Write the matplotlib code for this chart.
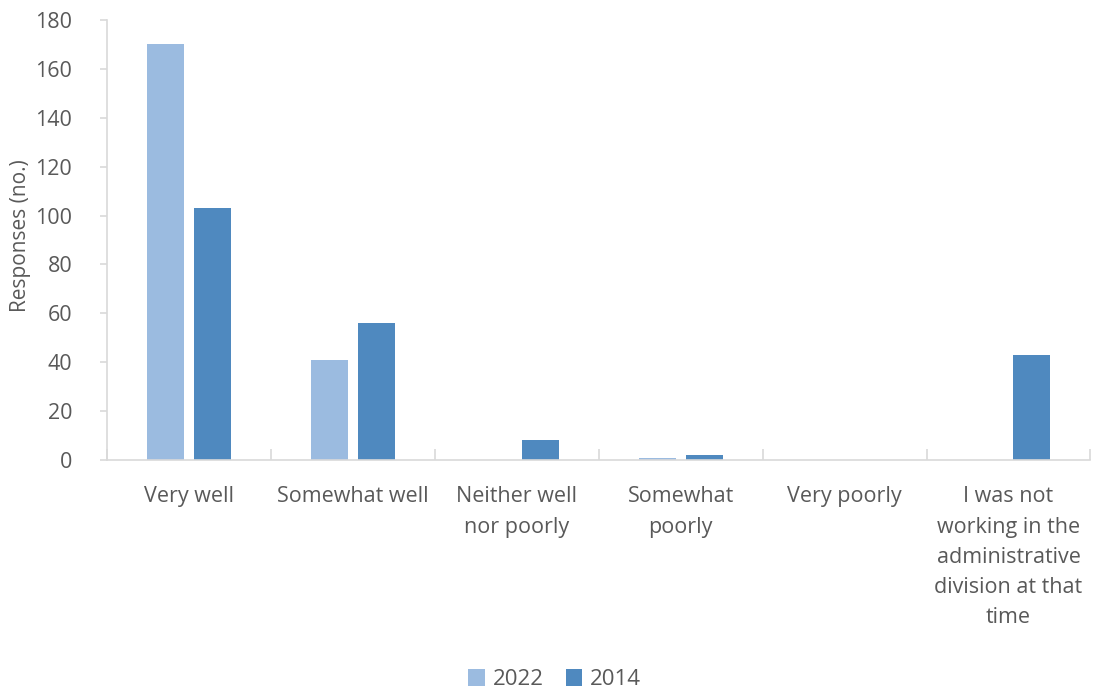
import numpy as np
import matplotlib.pyplot as plt

plt.rcParams['font.family'] = ['Open Sans', 'DejaVu Sans']

categories = ['Very well', 'Somewhat well', 'Neither well\nnor poorly', 'Somewhat\npoorly',
              'Very poorly', 'I was not\nworking in the\nadministrative\ndivision at that\ntime']
vals_2022 = [170, 41, 0, 1, 0, 0]
vals_2014 = [103, 56, 8, 2, 0, 43]

c2022 = '#9BBBE0'
c2014 = '#4F89BF'
txt = '#595959'
axcol = '#D9D9D9'

fig = plt.figure(figsize=(10.94, 6.89), dpi=100)
ax = fig.add_axes([0.0978, 0.3324, 0.899, 0.6386])

x = np.arange(len(categories))
w = 0.225
off = 0.1425
ax.bar(x - off, vals_2022, w, color=c2022, label='2022')
ax.bar(x + off, vals_2014, w, color=c2014, label='2014')

ax.set_xlim(-0.5, len(categories) - 0.5)
ax.set_ylim(0, 180)
ax.set_yticks(range(0, 181, 20))
ax.tick_params(axis='y', colors=axcol, labelcolor=txt, labelsize=15.5, length=5, width=1.2, pad=20)

# category labels, boundary ticks
ax.set_xticks(x)
ax.set_xticklabels(categories)
ax.tick_params(axis='x', which='major', length=0, labelcolor=txt, labelsize=15.5, pad=19)
for lbl in ax.get_xticklabels():
    lbl.set_linespacing(1.58)
    lbl.set_verticalalignment('top')
ax.set_xticks(np.arange(-0.5, len(categories) + 0.5, 1), minor=True)
ax.tick_params(axis='x', which='minor', direction='in', length=8, width=1.2, colors=axcol)

for s in ['top', 'right']:
    ax.spines[s].set_visible(False)
for s in ['left', 'bottom']:
    ax.spines[s].set_color(axcol)
    ax.spines[s].set_linewidth(1.2)

ax.set_ylabel('Responses (no.)', color=txt, fontsize=15, va='center')
ax.yaxis.set_label_coords(-0.088, 0.51)

ax.legend(loc='upper center', bbox_to_anchor=(0.455, -0.43), ncol=2, frameon=False,
          fontsize=16, labelcolor=txt, handlelength=0.75, handleheight=0.75,
          handletextpad=0.35, columnspacing=1.0)

fig.savefig('out.png', dpi=100)
